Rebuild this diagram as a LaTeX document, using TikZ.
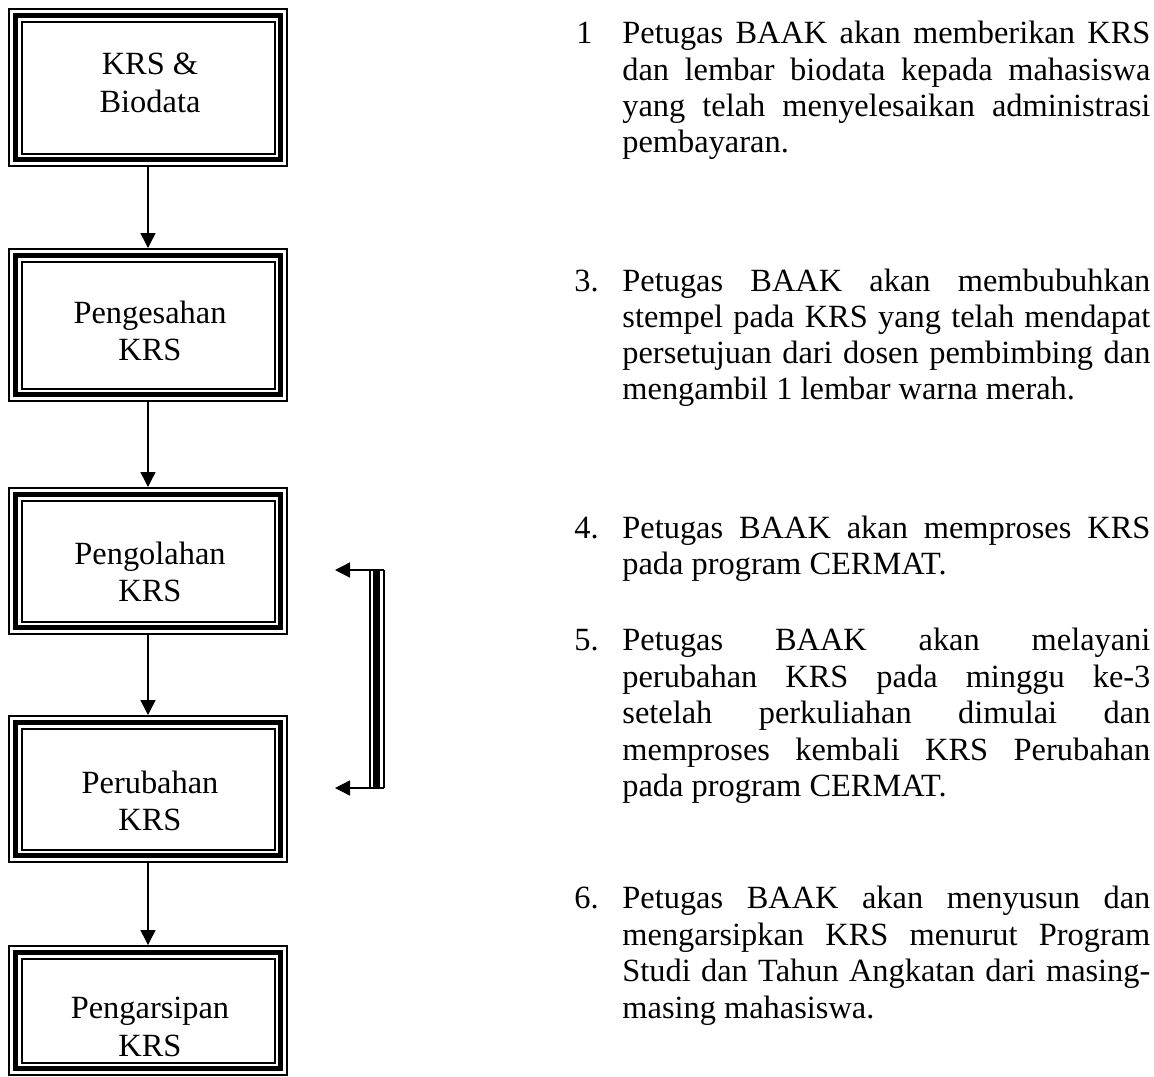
\documentclass[tikz,border=0pt]{standalone}
\usepackage{fontspec}
\setmainfont{Liberation Serif}
\usetikzlibrary{arrows.meta}
% one justified line of the description column
\newcommand{\justline}[1]{\makebox[264pt][s]{#1}}
\begin{document}
\begin{tikzpicture}[x=0.5pt,y=-0.5pt,
  bodyfont/.style={font=\fontsize{16.2}{18.25}\selectfont},
  txt/.style={bodyfont, inner sep=0pt, anchor=base west},
  num/.style={bodyfont, inner sep=0pt, anchor=base west},
  boxtext/.style={font=\fontsize{16.2}{18.8}\selectfont, align=center, inner sep=0pt},
  % box with a thin-thick-thin frame
  krsbox/.style={rectangle, inner sep=0pt, outer sep=3.625pt,
    minimum width=132.75pt,
    preaction={draw=black, line width=7.25pt},
    preaction={draw=white, line width=5.25pt},
    draw=black, line width=2.5pt},
  flow/.style={-{Triangle[length=7.5pt,width=7.5pt]}, line width=0.75pt},
  tripleline/.style={line cap=butt,
    preaction={draw=black, line width=8pt},
    preaction={draw=white, line width=6pt},
    draw=black, line width=3.5pt}
]
\useasboundingbox (0,0) rectangle (1154,1076);

% process boxes
\node[krsbox, minimum height=72.25pt] (b1) at (148,87.5) {};
\node[krsbox, minimum height=69.75pt] (b2) at (148,325) {};
\node[krsbox, minimum height=66.75pt] (b3) at (148,561) {};
\node[krsbox, minimum height=66.75pt] (b4) at (148,789) {};
\node[krsbox, minimum height=58.25pt] (b5) at (148,1010.5) {};

% box captions
\node[boxtext] (c1) at (150,83) {KRS \&\\Biodata};
\node[boxtext] (c2) at (150,331) {Pengesahan\\KRS};
\node[boxtext] (c3) at (150,572) {Pengolahan\\KRS};
\node[boxtext] (c4) at (150,801) {Perubahan\\KRS};
\node[boxtext] (c5) at (150,1027) {Pengarsipan\\KRS};

% flow arrows
\draw[flow] (b1) -- (b2);
\draw[flow] (b2) -- (b3);
\draw[flow] (b3) -- (b4);
\draw[flow] (b4) -- (b5);

% revision loop between processing and change
\coordinate (lt) at (376.5,570);
\coordinate (lb) at (376.5,788);
\coordinate (ltr) at (384,570);
\coordinate (lbr) at (384,788);
\coordinate (ltl) at (335,570);
\coordinate (lbl) at (335,788);
\path[tripleline] (lt) -- (lb);
\draw[flow] (ltr) -- (ltl);
\draw[flow] (lbr) -- (lbl);

% descriptions
\node[num] (n1) at (576,43) {1};
\node[txt] (t1a) at (622,43) {\justline{Petugas BAAK akan memberikan KRS}};
\node[txt] (t1b) at (622,80) {\justline{dan lembar biodata kepada mahasiswa}};
\node[txt] (t1c) at (622,116) {\justline{yang telah menyelesaikan administrasi}};
\node[txt] (t1d) at (622,152) {pembayaran.};

\node[num] (n3) at (574,291) {3.};
\node[txt] (t3a) at (622,291) {\justline{Petugas BAAK akan membubuhkan}};
\node[txt] (t3b) at (622,327) {\justline{stempel pada KRS yang telah mendapat}};
\node[txt] (t3c) at (622,363) {\justline{persetujuan dari dosen pembimbing dan}};
\node[txt] (t3d) at (622,399) {mengambil 1 lembar warna merah.};

\node[num] (n4) at (574,538) {4.};
\node[txt] (t4a) at (622,538) {\justline{Petugas BAAK akan memproses KRS}};
\node[txt] (t4b) at (622,574) {pada program CERMAT.};

\node[num] (n5) at (574,650) {5.};
\node[txt] (t5a) at (622,650) {\justline{Petugas BAAK akan melayani}};
\node[txt] (t5b) at (622,687) {\justline{perubahan KRS pada minggu ke-3}};
\node[txt] (t5c) at (622,723) {\justline{setelah perkuliahan dimulai dan}};
\node[txt] (t5d) at (622,760) {\justline{memproses kembali KRS Perubahan}};
\node[txt] (t5e) at (622,796) {pada program CERMAT.};

\node[num] (n6) at (574,908) {6.};
\node[txt] (t6a) at (622,908) {\justline{Petugas BAAK akan menyusun dan}};
\node[txt] (t6b) at (622,945) {\justline{mengarsipkan KRS menurut Program}};
\node[txt] (t6c) at (622,981) {\justline{Studi dan Tahun Angkatan dari masing-}};
\node[txt] (t6d) at (622,1018) {masing mahasiswa.};
\end{tikzpicture}
\end{document}
